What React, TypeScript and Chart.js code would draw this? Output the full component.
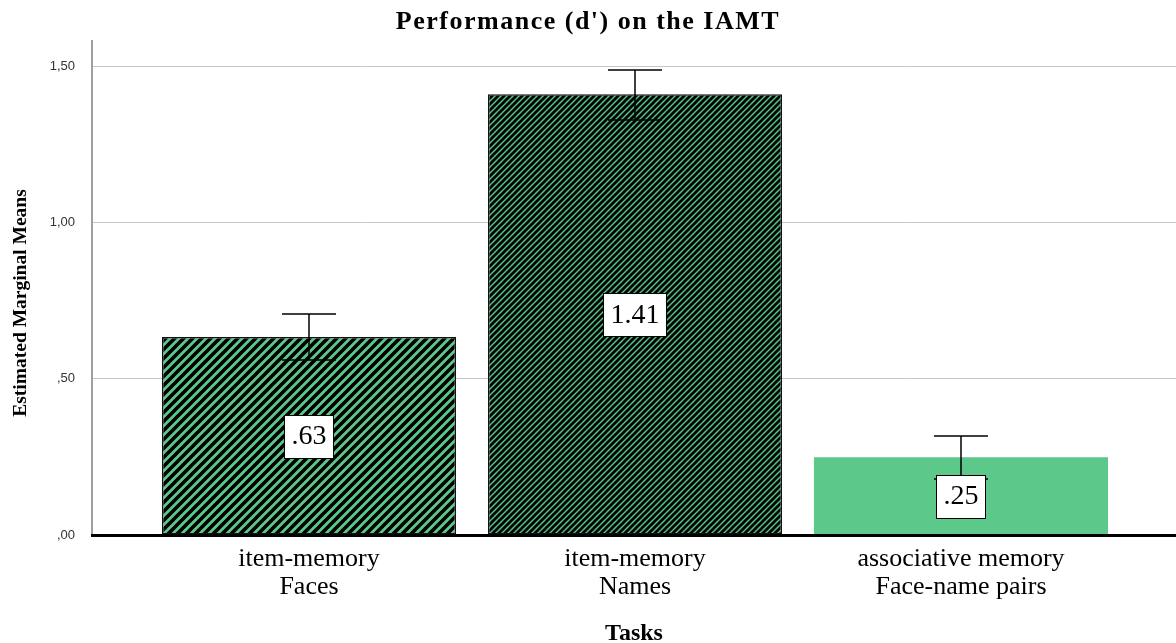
import React, { useEffect, useRef } from "react";
import { Chart, registerables } from "chart.js";

Chart.register(...registerables);

const categories: string[][] = [
  ["item-memory", "Faces"],
  ["item-memory", "Names"],
  ["associative memory", "Face-name pairs"],
];
const means: number[] = [0.633, 1.41, 0.249];
const errUpper: number[] = [0.707, 1.487, 0.317];
const errLower: number[] = [0.56, 1.327, 0.179];
const valueLabels: string[] = [".63", "1.41", ".25"];
const yTicks: number[] = [0, 0.5, 1.0, 1.5];
const yTickLabels: string[] = [",00", ",50", "1,00", "1,50"];

const GREEN = "#5cc98a";

function makeStripes(period: number, lineW: number, bg: string): CanvasPattern | string {
  const c = document.createElement("canvas");
  c.width = period;
  c.height = period;
  const ctx = c.getContext("2d");
  if (!ctx) return bg;
  ctx.fillStyle = bg;
  ctx.fillRect(0, 0, period, period);
  ctx.strokeStyle = "#000";
  ctx.lineWidth = lineW;
  ctx.lineCap = "square";
  ctx.beginPath();
  for (let k = -1; k <= 1; k++) {
    ctx.moveTo(k * period - 1, period + 1);
    ctx.lineTo(k * period + period + 1, -1);
  }
  ctx.stroke();
  const p = ctx.createPattern(c, "repeat");
  return p || bg;
}

const overlayPlugin = {
  id: "overlay",
  afterDatasetsDraw(chart: any) {
    const ctx = chart.ctx;
    const xs = chart.scales.x;
    const ys = chart.scales.y;
    ctx.save();
    // error bars
    ctx.strokeStyle = "#000";
    ctx.lineWidth = 1.5;
    means.forEach((_m, i) => {
      const x = xs.getPixelForValue(i);
      const yu = ys.getPixelForValue(errUpper[i]);
      const yl = ys.getPixelForValue(errLower[i]);
      ctx.beginPath();
      ctx.moveTo(x, yu);
      ctx.lineTo(x, yl);
      ctx.moveTo(x - 27, yu);
      ctx.lineTo(x + 27, yu);
      ctx.moveTo(x - 27, yl);
      ctx.lineTo(x + 27, yl);
      ctx.stroke();
    });
    // value labels
    ctx.font = "28px 'Liberation Serif', 'Times New Roman', serif";
    ctx.textAlign = "center";
    ctx.textBaseline = "middle";
    means.forEach((m, i) => {
      const x = xs.getPixelForValue(i);
      const y = ys.getPixelForValue(m / 2);
      const w = ctx.measureText(valueLabels[i]).width + 14;
      const h = 43;
      ctx.fillStyle = "#fff";
      ctx.fillRect(Math.round(x - w / 2) + 0.5, Math.round(y - h / 2) + 0.5, Math.round(w), h);
      ctx.strokeStyle = "#000";
      ctx.lineWidth = 1;
      ctx.strokeRect(Math.round(x - w / 2) + 0.5, Math.round(y - h / 2) + 0.5, Math.round(w), h);
      ctx.fillStyle = "#000";
      ctx.fillText(valueLabels[i], x, y + 1);
    });
    // y axis title
    ctx.save();
    ctx.translate(21, 303);
    ctx.rotate(-Math.PI / 2);
    ctx.font = "bold 19.5px 'Liberation Serif', 'Times New Roman', serif";
    ctx.fillStyle = "#000";
    ctx.fillText("Estimated Marginal Means", 0, 0);
    ctx.restore();
    // title
    ctx.font = "bold 26px 'Liberation Serif', 'Times New Roman', serif";
    (ctx as any).letterSpacing = "1.5px";
    ctx.textAlign = "center";
    ctx.textBaseline = "middle";
    ctx.fillStyle = "#000";
    ctx.fillText("Performance (d') on the IAMT", chart.width / 2, 22);
    ctx.restore();
  },
};

export default function App() {
  const ref = useRef<HTMLCanvasElement | null>(null);
  useEffect(() => {
    if (!ref.current) return;
    const fills = [
      makeStripes(9, 3.6, GREEN),
      makeStripes(6, 2.7, "#4fc283"),
      GREEN,
    ];
    const chart = new Chart(ref.current, {
      type: "bar",
      data: {
        datasets: [
          {
            data: means.map((v, i) => ({ x: i, y: v })),
            backgroundColor: fills as any,
            borderColor: ["#111", "#111", GREEN],
            borderWidth: [1.5, 1.5, 0] as any,
            borderSkipped: false,
            categoryPercentage: 1,
            barPercentage: 0.902,
          } as any,
        ],
      },
      options: {
        animation: false,
        responsive: true,
        maintainAspectRatio: false,
        layout: { padding: { top: 41, right: 0, bottom: 0, left: 0 } },
        plugins: {
          legend: { display: false },
          tooltip: { enabled: false },
          title: { display: false },
        },
        scales: {
          x: {
            type: "linear",
            offset: false,
            min: -0.6656,
            max: 2.6595,
            afterBuildTicks: (s: any) => {
              s.ticks = categories.map((_c, i) => ({ value: i }));
            },
            afterFit: (s: any) => {
              s.height = 108;
            },
            grid: { display: false, drawTicks: false },
            border: { display: true, color: "#000", width: 3, z: 2 },
            ticks: {
              padding: 10,
              color: "#000",
              font: { family: "'Liberation Serif', 'Times New Roman', serif", size: 26, lineHeight: 1.08 },
              callback: (v: any) => categories[Math.round(Number(v))] as any,
              maxRotation: 0,
              autoSkip: false,
            },
            title: {
              display: true,
              text: "Tasks",
              color: "#000",
              font: { family: "'Liberation Serif', 'Times New Roman', serif", size: 24, weight: "bold", lineHeight: 0.8 },
              padding: { top: 0, bottom: 0 },
            },
          },
          y: {
            min: 0,
            max: 1.58,
            afterBuildTicks: (s: any) => {
              s.ticks = yTicks.map((v) => ({ value: v }));
            },
            afterFit: (s: any) => {
              s.width = 92;
            },
            grid: { color: "#c8c8c8", lineWidth: 1, drawTicks: false },
            border: { display: true, color: "#a0a0a0", width: 2 },
            ticks: {
              padding: 17,
              color: "#333",
              font: { family: "'Liberation Sans', Arial, sans-serif", size: 13 },
              callback: (v: any) => {
                const idx = yTicks.findIndex((t) => Math.abs(t - Number(v)) < 1e-6);
                return idx >= 0 ? yTickLabels[idx] : "";
              },
            },
          },
        },
      },
      plugins: [overlayPlugin],
    } as any);
    return () => chart.destroy();
  }, []);
  return (
    <div style={{ position: "fixed", left: 0, top: 0, width: 1176, height: 643, background: "#fff" }}>
      <canvas ref={ref} />
    </div>
  );
}
